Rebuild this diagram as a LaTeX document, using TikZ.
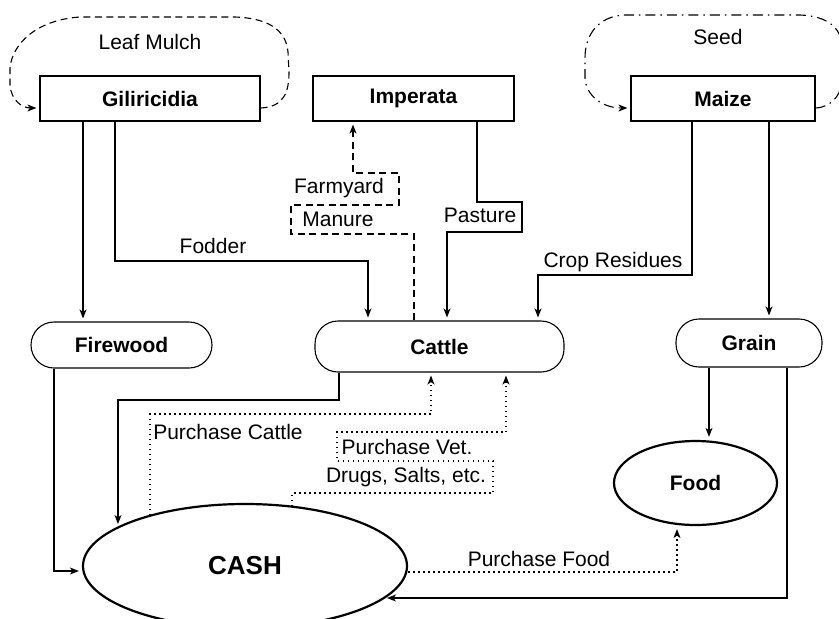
\documentclass[tikz,border=0pt]{standalone}
\usepackage{fontspec}
\setmainfont{Liberation Sans}
\usetikzlibrary{shapes.geometric,arrows.meta,calc}
\begin{document}
\begin{tikzpicture}[x=1pt,y=-1pt,
  lbl/.style={font=\fontsize{21pt}{25pt}\selectfont, inner sep=0pt},
  boxnode/.style={draw, line width=1.2pt, inner sep=0pt, minimum height=45pt, font=\fontsize{21pt}{25pt}\selectfont\bfseries},
  pill/.style={draw, line width=1.1pt, inner sep=0pt, rounded corners=23pt, font=\fontsize{21pt}{25pt}\selectfont\bfseries},
  oval/.style={draw, ellipse, line width=2.2pt, inner sep=0pt, font=\fontsize{21pt}{25pt}\selectfont\bfseries},
  conn/.style={line width=1.1pt, -{Stealth[length=9pt,width=7pt,inset=2.5pt]}, shorten >=3pt},
  plainline/.style={line width=1.1pt},
  dashline/.style={conn, dash pattern=on 7pt off 4.5pt},
  dashdotline/.style={conn, dash pattern=on 10pt off 5pt on 1.5pt off 5pt},
  dotline/.style={conn, dash pattern=on 1.5pt off 3.5pt}
]
\useasboundingbox (0,0) rectangle (839,619);

% nodes
\node[boxnode, minimum width=220pt] (gl) at (150,98.5) {Giliricidia};
\node[boxnode, minimum width=201pt] (im) at (413.5,98.5) {Imperata};
\node[boxnode, minimum width=184pt] (mz) at (723,98.5) {Maize};
\node[pill, minimum width=181pt, minimum height=46pt] (fw) at (121.5,345) {Firewood};
\node[pill, minimum width=249pt, minimum height=51pt] (ct) at (439.5,346.5) {Cattle};
\node[pill, minimum width=146pt, minimum height=48pt] (gr) at (749,343) {Grain};
\node[oval, minimum width=163pt, minimum height=84pt] (fd) at (695.5,483) {Food};
\node[oval, minimum width=324pt, minimum height=124pt, font=\fontsize{26pt}{30pt}\selectfont\bfseries] (cash) at (245,566) {CASH};

% labels
\node[lbl] (lm) at (150,42) {Leaf Mulch};
\node[lbl] (sd) at (718,37) {Seed};
\node[lbl] (fo) at (213,246) {Fodder};
\node[lbl] (fy) at (339,188) {Farmyard};
\node[lbl] (mn) at (338,219) {Manure};
\node[lbl] (pa) at (480,215) {Pasture};
\node[lbl] (cr) at (613,262) {Crop Residues};
\node[lbl] (pc) at (228,432) {Purchase Cattle};
\node[lbl] (pv) at (407,447) {Purchase Vet.};
\node[lbl] (ds) at (406,477) {Drugs, Salts, etc.};
\node[lbl] (pf) at (539,559) {Purchase Food};

% loops
\draw[dashline] ($(gl.east)+(0,9.5)$) .. controls (284,107) and (289,92) .. (289,72)
  -- (288,52) .. controls (286,28) and (265,18) .. (235,17)
  -- (80,17) .. controls (35,20) and (12,45) .. (10,68)
  -- (10,85) .. controls (11,100) and (22,108) .. ($(gl.west)+(0,9.5)$);
\draw[dashdotline] ($(mz.east)+(0,9.5)$) .. controls (832,107) and (843,95) .. (843,72)
  -- (843,52) .. controls (843,28) and (828,16) .. (800,15)
  -- (625,15) .. controls (598,16) and (585,35) .. (585,58)
  -- (585,78) .. controls (586,96) and (603,108) .. ($(mz.west)+(0,9.5)$);

% solid connectors
\draw[conn] (83,0 |- gl.south) -- (83,0 |- fw.north);
\draw[conn] (115,0 |- gl.south) -- (115,261) -- (368,261) -- (368,0 |- ct.north);
\draw[conn] (477,0 |- im.south) -- (477,202) -- (522,202) -- (522,232) -- (447,232) -- (447,0 |- ct.north);
\draw[conn] (692,0 |- mz.south) -- (692,275) -- (538,275) -- (538,0 |- ct.north);
\draw[conn] (769,0 |- mz.south) -- (769,0 |- gr.north);
\draw[conn] (709,0 |- gr.south) -- (709,0 |- fd.north);
\draw[conn] (787,0 |- gr.south) -- (787,598) -- ($(cash.center)+(139,32)$);
\draw[conn] (54,0 |- fw.south) -- (54,571) -- ($(cash.west)+(0,5)$);
\draw[conn] (339,0 |- ct.south) -- (339,400) -- (118,400) -- ($(cash.center)+(-127,-39)$);

% dashed manure
\draw[dashline] (414,0 |- ct.north) -- (414,234) -- (291,234) -- (291,205) -- (399,205) -- (399,173) -- (353,173) -- (353,0 |- im.south);

% dotted purchases
\draw[dotline] ($(cash.center)+(-95,-51)$) -- (150,414) -- (431,414) -- (431,0 |- ct.south);
\draw[dotline] ($(cash.center)+(47,-60)$) -- (292,493) -- (493,493) -- (493,461) -- (337,461) -- (337,432) -- (506,432) -- (506,0 |- ct.south);
\draw[dotline] ($(cash.east)+(0,6)$) -- (677,572) -- (677,0 |- fd.south);
\end{tikzpicture}
\end{document}
